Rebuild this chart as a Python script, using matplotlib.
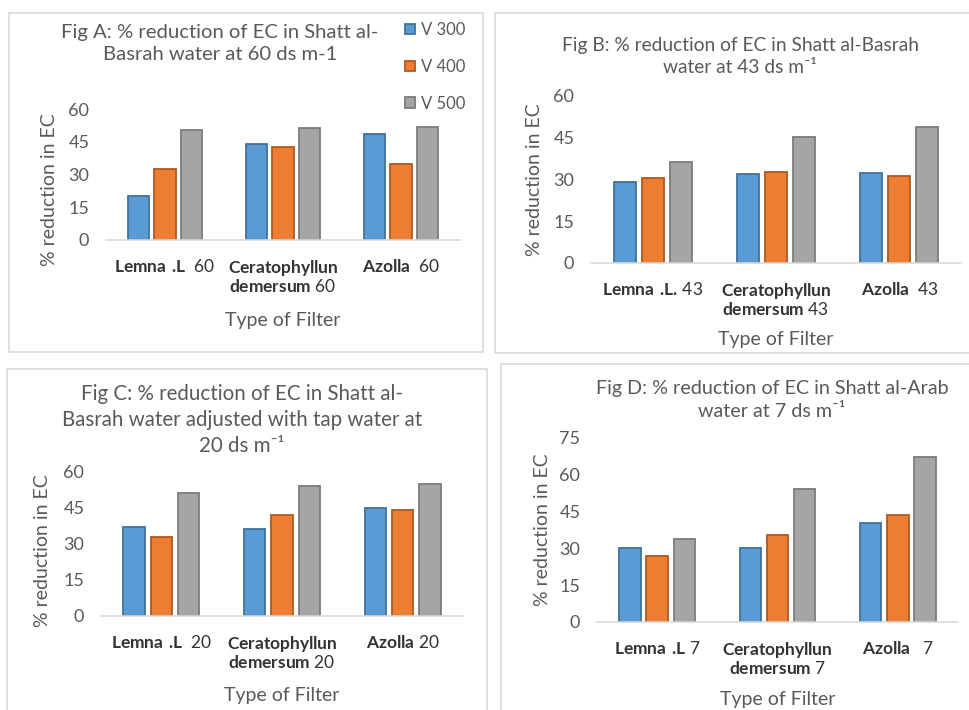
import numpy as np
import matplotlib
matplotlib.use("Agg")
import matplotlib.pyplot as plt
from matplotlib.patches import Rectangle

W, H = 969, 710

plt.rcParams["font.family"] = ["Lato", "DejaVu Sans"]
plt.rcParams["mathtext.fontset"] = "custom"
plt.rcParams["mathtext.rm"] = "Lato"
plt.rcParams["mathtext.bf"] = "Lato:bold"

series_names = ["V 300", "V 400", "V 500"]

# Fig A: Shatt al-Basrah water at 60 ds m-1
a_labels = [r"$\mathbf{Lemna\ .\!L}$  60",
            "$\\mathbf{Ceratophyllun}$\n$\\mathbf{demersum}$ 60",
            r"$\mathbf{Azolla}$  60"]
a_v300 = [20.0, 43.9, 48.7]
a_v400 = [32.4, 42.6, 34.8]
a_v500 = [50.5, 51.4, 51.9]

# Fig B: Shatt al-Basrah water at 43 ds m-1
b_labels = [r"$\mathbf{Lemna\ .\!L.\!}$ 43",
            "$\\mathbf{Ceratophyllun}$\n$\\mathbf{demersum}$ 43",
            r"$\mathbf{Azolla}$  43"]
b_v300 = [29.0, 31.9, 32.5]
b_v400 = [30.7, 32.8, 31.1]
b_v500 = [36.2, 45.3, 48.8]

# Fig C: adjusted with tap water, 20 ds m-1
c_labels = [r"$\mathbf{Lemna\ .\!L}$  20",
            "$\\mathbf{Ceratophyllun}$\n$\\mathbf{demersum}$ 20",
            r"$\mathbf{Azolla}$ 20"]
c_v300 = [36.9, 36.0, 44.7]
c_v400 = [32.6, 41.8, 43.7]
c_v500 = [50.8, 53.9, 54.6]

# Fig D: Shatt al-Arab water at 7 ds m-1
d_labels = [r"$\mathbf{Lemna\ .\!L}$ 7",
            "$\\mathbf{Ceratophyllun}$\n$\\mathbf{demersum}$ 7",
            r"$\mathbf{Azolla}$   7"]
d_v300 = [30.0, 30.0, 40.2]
d_v400 = [27.1, 35.6, 43.7]
d_v500 = [33.7, 54.2, 67.1]

fills = ["#5B9BD5", "#ED7D31", "#A5A5A5"]
edges = ["#41719C", "#AE5A21", "#7B7B7B"]
TXT = "#595959"


def px_rect(x0, y0, x1, y1):
    return [x0 / W, 1 - y1 / H, (x1 - x0) / W, (y1 - y0) / H]


def draw_panel(fig, frame, box, labels, values, ymax, title, title_xy,
               title_size, ylabel_xy, xlabel_y):
    # light grey frame around each chart
    x0, y0, x1, y1 = frame
    fig.add_artist(Rectangle((x0 / W, 1 - y1 / H), (x1 - x0) / W, (y1 - y0) / H,
                             transform=fig.transFigure, fill=False,
                             edgecolor="#D9D9D9", linewidth=1.2))

    ax = fig.add_axes(px_rect(*box))
    x = np.arange(len(labels))
    pitch, width = 0.226, 0.178
    for i, vals in enumerate(values):
        ax.bar(x + (i - 1) * pitch, vals, width, color=fills[i],
               edgecolor=edges[i], linewidth=1.3, label=series_names[i])

    ax.set_xlim(-0.5, len(labels) - 0.5)
    ax.set_ylim(0, ymax)
    ax.set_yticks(np.arange(0, ymax + 1, 15))
    ax.set_xticks(x, labels)
    for s in ["top", "right", "left"]:
        ax.spines[s].set_visible(False)
    ax.spines["bottom"].set_color("#D9D9D9")
    ax.spines["bottom"].set_linewidth(1.2)
    ax.tick_params(axis="both", length=0)
    ax.tick_params(axis="y", labelsize=13, labelcolor=TXT, pad=12)
    ax.tick_params(axis="x", labelsize=12.5, labelcolor="#333333", pad=13)
    for lab in ax.get_xticklabels():
        lab.set_linespacing(1.0)

    cx = (box[0] + box[2]) / 2
    fig.text(title_xy[0] / W, 1 - title_xy[1] / H, title, ha="center",
             va="center", fontsize=title_size, color=TXT, linespacing=1.4)
    fig.text(cx / W, 1 - xlabel_y / H, "Type of Filter", ha="center",
             va="center", fontsize=14, color=TXT)
    fig.text(ylabel_xy[0] / W, 1 - ylabel_xy[1] / H, "% reduction in EC",
             ha="center", va="center", rotation=90, fontsize=14, color=TXT)
    return ax


fig = plt.figure(figsize=(W / 100, H / 100), dpi=100)

ax_a = draw_panel(fig, (9, 13, 483, 352), (106, 109, 460, 240), a_labels,
                  [a_v300, a_v400, a_v500], 60,
                  "Fig A: % reduction of EC in Shatt al-\nBasrah water at 60 ds m-1",
                  (220, 43.5), 14.6, (50, 190), 320)
ax_a.legend(loc="upper left", bbox_to_anchor=(405 / W, 1 - 22 / H),
            bbox_transform=fig.transFigure, frameon=False, fontsize=12,
            labelcolor=TXT, handlelength=0.6, handleheight=0.6,
            handletextpad=0.35, labelspacing=1.25, borderpad=0,
            borderaxespad=0)

draw_panel(fig, (495, 13, 975, 353), (591, 96, 961, 263), b_labels,
           [b_v300, b_v400, b_v500], 60,
           "Fig B: % reduction of EC in Shatt al-Basrah\nwater at 43 ds m\u207b\u00b9",
           (740, 56.5), 13.8, (535, 180), 340)

draw_panel(fig, (7, 369, 487, 720), (101, 471, 463, 616), c_labels,
           [c_v300, c_v400, c_v500], 60,
           "Fig C: % reduction of EC in Shatt al-\nBasrah water adjusted with tap water at\n20 ds m\u207b\u00b9",
           (242, 420), 14.8, (43, 551), 695)

draw_panel(fig, (501, 364, 975, 720), (597, 438, 958, 622), d_labels,
           [d_v300, d_v400, d_v500], 75,
           "Fig D: % reduction of EC in Shatt al-Arab\nwater at 7 ds m\u207b\u00b9",
           (772, 400), 14.2, (542, 530), 700)

fig.savefig("out.png", dpi=100)
